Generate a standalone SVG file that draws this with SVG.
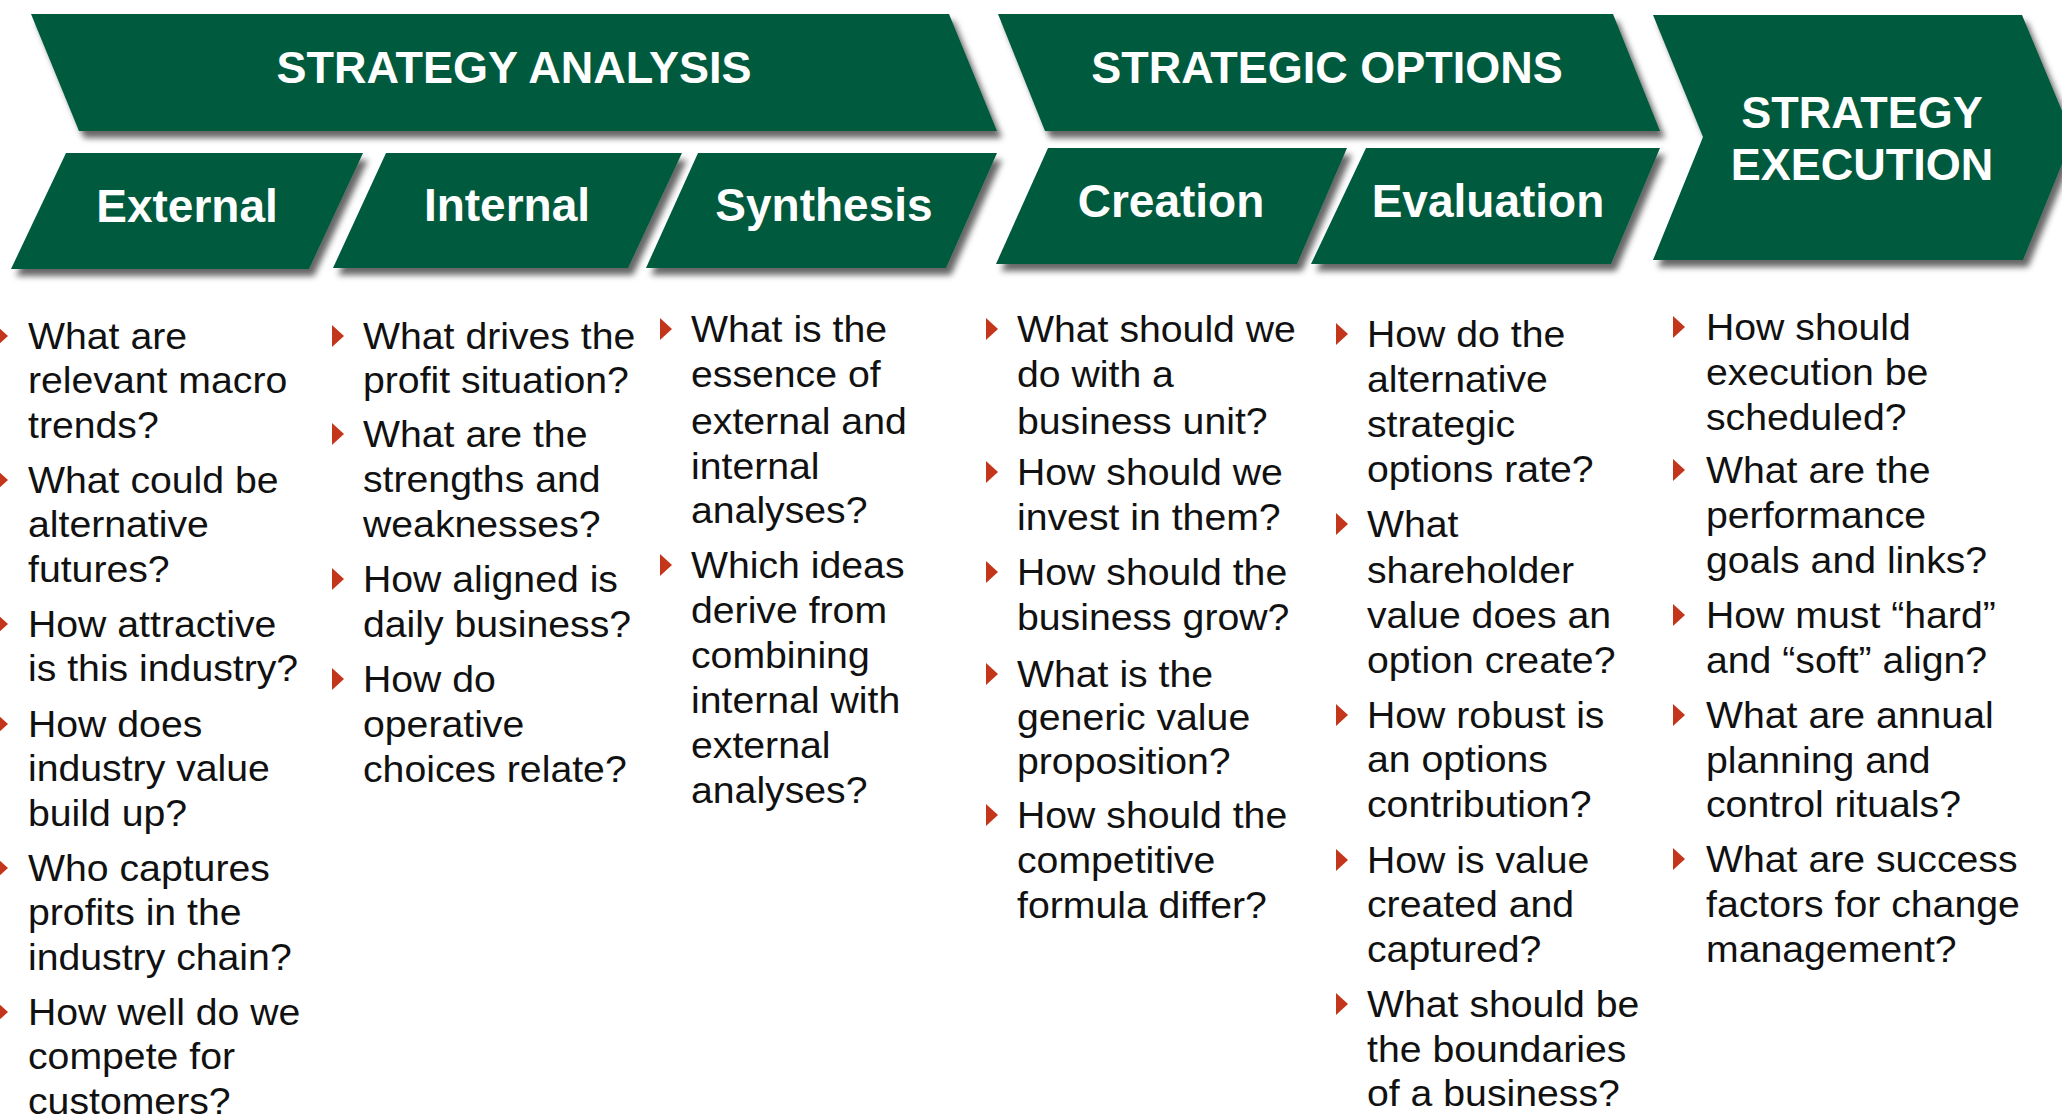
<svg xmlns="http://www.w3.org/2000/svg" width="2062" height="1118" viewBox="0 0 2062 1118">
  <defs>
    <filter id="shadow" x="-5%" y="-10%" width="115%" height="135%">
      <feDropShadow dx="5" dy="7" stdDeviation="3" flood-color="#000" flood-opacity="0.6"/>
    </filter>
    <path id="bullet" d="M0,-11 L12,0 L0,11 Z" fill="#c4361b"/>
  </defs>
  <style>
    .band{fill:#065a3e;filter:url(#shadow)}
    .h1{font-family:"Liberation Sans",Arial,sans-serif;font-weight:bold;font-size:45px;fill:#fff;text-anchor:middle}
    .h2{font-family:"Liberation Sans",Arial,sans-serif;font-weight:bold;font-size:46px;fill:#fff;text-anchor:middle}
    .q{font-family:"Liberation Sans",Arial,sans-serif;font-size:37px;fill:#111}
  </style>
  <rect width="2062" height="1118" fill="#fff"/>

  <!-- phase banners -->
  <g id="phase-analysis">
    <polygon class="band" points="31,14 949,14 997,131 79,131"/>
    <text class="h1" x="514" y="83">STRATEGY ANALYSIS</text>
  </g>
  <g id="phase-options">
    <polygon class="band" points="998,14 1613,14 1660,131 1045,131"/>
    <text class="h1" x="1327" y="83">STRATEGIC OPTIONS</text>
  </g>
  <g id="phase-execution">
    <polygon class="band" points="1653,15 2022,15 2073,137 2023,260 1653,260 1703,137"/>
    <text class="h1" x="1862" y="128">STRATEGY</text>
    <text class="h1" x="1862" y="180">EXECUTION</text>
  </g>

  <!-- step tabs -->
  <g id="step-external">
    <polygon class="band" points="66,153 363,153 309,269 11,269"/>
    <text class="h2" x="187" y="222">External</text>
  </g>
  <g id="step-internal">
    <polygon class="band" points="386,153 682,153 628,268 333,268"/>
    <text class="h2" x="507" y="221">Internal</text>
  </g>
  <g id="step-synthesis">
    <polygon class="band" points="698,153 997,153 946,268 646,268"/>
    <text class="h2" x="824" y="221">Synthesis</text>
  </g>
  <g id="step-creation">
    <polygon class="band" points="1048,148 1347,148 1297,264 996,264"/>
    <text class="h2" x="1171" y="217">Creation</text>
  </g>
  <g id="step-evaluation">
    <polygon class="band" points="1366,148 1660,148 1611,264 1311,264"/>
    <text class="h2" x="1488" y="217">Evaluation</text>
  </g>

  <!-- question lists -->
  <g id="questions-external">
    <use href="#bullet" x="-4" y="336"/>
    <use href="#bullet" x="-4" y="480"/>
    <use href="#bullet" x="-4" y="624"/>
    <use href="#bullet" x="-4" y="724"/>
    <use href="#bullet" x="-4" y="868"/>
    <use href="#bullet" x="-4" y="1012"/>
    <g transform="translate(28 0) scale(1.06 1)">
      <text class="q"><tspan x="0" y="349">What are</tspan><tspan x="0" y="393.5">relevant macro</tspan><tspan x="0" y="438">trends?</tspan></text>
      <text class="q"><tspan x="0" y="493">What could be</tspan><tspan x="0" y="537.5">alternative</tspan><tspan x="0" y="582">futures?</tspan></text>
      <text class="q"><tspan x="0" y="637">How attractive</tspan><tspan x="0" y="681.5">is this industry?</tspan></text>
      <text class="q"><tspan x="0" y="737">How does</tspan><tspan x="0" y="781.5">industry value</tspan><tspan x="0" y="826">build up?</tspan></text>
      <text class="q"><tspan x="0" y="881">Who captures</tspan><tspan x="0" y="925.5">profits in the</tspan><tspan x="0" y="970">industry chain?</tspan></text>
      <text class="q"><tspan x="0" y="1025">How well do we</tspan><tspan x="0" y="1069.5">compete for</tspan><tspan x="0" y="1114">customers?</tspan></text>
    </g>
  </g>

  <g id="questions-internal">
    <use href="#bullet" x="332" y="336"/>
    <use href="#bullet" x="332" y="434"/>
    <use href="#bullet" x="332" y="579"/>
    <use href="#bullet" x="332" y="679"/>
    <g transform="translate(363 0) scale(1.06 1)">
      <text class="q"><tspan x="0" y="349">What drives the</tspan><tspan x="0" y="393">profit situation?</tspan></text>
      <text class="q"><tspan x="0" y="447">What are the</tspan><tspan x="0" y="492">strengths and</tspan><tspan x="0" y="537">weaknesses?</tspan></text>
      <text class="q"><tspan x="0" y="592">How aligned is</tspan><tspan x="0" y="637">daily business?</tspan></text>
      <text class="q"><tspan x="0" y="692">How do</tspan><tspan x="0" y="737">operative</tspan><tspan x="0" y="782">choices relate?</tspan></text>
    </g>
  </g>

  <g id="questions-synthesis">
    <use href="#bullet" x="660" y="329"/>
    <use href="#bullet" x="660" y="565"/>
    <g transform="translate(691 0) scale(1.06 1)">
      <text class="q"><tspan x="0" y="342">What is the</tspan><tspan x="0" y="387">essence of</tspan><tspan x="0" y="434">external and</tspan><tspan x="0" y="479">internal</tspan><tspan x="0" y="523">analyses?</tspan></text>
      <text class="q"><tspan x="0" y="578">Which ideas</tspan><tspan x="0" y="623">derive from</tspan><tspan x="0" y="668">combining</tspan><tspan x="0" y="713">internal with</tspan><tspan x="0" y="758">external</tspan><tspan x="0" y="803">analyses?</tspan></text>
    </g>
  </g>

  <g id="questions-creation">
    <use href="#bullet" x="986" y="329"/>
    <use href="#bullet" x="986" y="472"/>
    <use href="#bullet" x="986" y="572"/>
    <use href="#bullet" x="986" y="674"/>
    <use href="#bullet" x="986" y="815"/>
    <g transform="translate(1017 0) scale(1.06 1)">
      <text class="q"><tspan x="0" y="342">What should we</tspan><tspan x="0" y="387">do with a</tspan><tspan x="0" y="434">business unit?</tspan></text>
      <text class="q"><tspan x="0" y="485">How should we</tspan><tspan x="0" y="530">invest in them?</tspan></text>
      <text class="q"><tspan x="0" y="585">How should the</tspan><tspan x="0" y="630">business grow?</tspan></text>
      <text class="q"><tspan x="0" y="687">What is the</tspan><tspan x="0" y="730">generic value</tspan><tspan x="0" y="774">proposition?</tspan></text>
      <text class="q"><tspan x="0" y="828">How should the</tspan><tspan x="0" y="873">competitive</tspan><tspan x="0" y="918">formula differ?</tspan></text>
    </g>
  </g>

  <g id="questions-evaluation">
    <use href="#bullet" x="1336" y="334"/>
    <use href="#bullet" x="1336" y="524"/>
    <use href="#bullet" x="1336" y="715"/>
    <use href="#bullet" x="1336" y="860"/>
    <use href="#bullet" x="1336" y="1004"/>
    <g transform="translate(1367 0) scale(1.06 1)">
      <text class="q"><tspan x="0" y="347">How do the</tspan><tspan x="0" y="392">alternative</tspan><tspan x="0" y="437">strategic</tspan><tspan x="0" y="482">options rate?</tspan></text>
      <text class="q"><tspan x="0" y="537">What</tspan><tspan x="0" y="583">shareholder</tspan><tspan x="0" y="628">value does an</tspan><tspan x="0" y="673">option create?</tspan></text>
      <text class="q"><tspan x="0" y="728">How robust is</tspan><tspan x="0" y="772">an options</tspan><tspan x="0" y="817">contribution?</tspan></text>
      <text class="q"><tspan x="0" y="873">How is value</tspan><tspan x="0" y="917">created and</tspan><tspan x="0" y="962">captured?</tspan></text>
      <text class="q"><tspan x="0" y="1017">What should be</tspan><tspan x="0" y="1062">the boundaries</tspan><tspan x="0" y="1106">of a business?</tspan></text>
    </g>
  </g>

  <g id="questions-execution">
    <use href="#bullet" x="1673" y="327"/>
    <use href="#bullet" x="1673" y="470"/>
    <use href="#bullet" x="1673" y="615"/>
    <use href="#bullet" x="1673" y="715"/>
    <use href="#bullet" x="1673" y="859"/>
    <g transform="translate(1706 0) scale(1.06 1)">
      <text class="q"><tspan x="0" y="340">How should</tspan><tspan x="0" y="385">execution be</tspan><tspan x="0" y="430">scheduled?</tspan></text>
      <text class="q"><tspan x="0" y="483">What are the</tspan><tspan x="0" y="528">performance</tspan><tspan x="0" y="573">goals and links?</tspan></text>
      <text class="q"><tspan x="0" y="628">How must “hard”</tspan><tspan x="0" y="673">and “soft” align?</tspan></text>
      <text class="q"><tspan x="0" y="728">What are annual</tspan><tspan x="0" y="773">planning and</tspan><tspan x="0" y="817">control rituals?</tspan></text>
      <text class="q"><tspan x="0" y="872">What are success</tspan><tspan x="0" y="917">factors for change</tspan><tspan x="0" y="962">management?</tspan></text>
    </g>
  </g>
</svg>
